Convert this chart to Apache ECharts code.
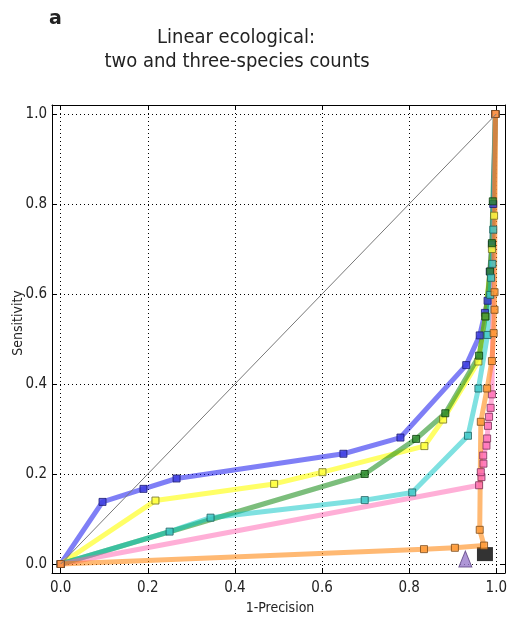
<!DOCTYPE html>
<html>
<head>
<meta charset="utf-8">
<script src="https://cdn.jsdelivr.net/npm/echarts@6/dist/echarts.min.js"></script>
<style>
  html, body { margin: 0; padding: 0; background: #fff; }
  #chart { width: 510px; height: 618px; }
</style>
</head>
<body>
<div id="chart"></div>
<script>
// Tick positions shared by both axes
const ticks = [0.0, 0.2, 0.4, 0.6, 0.8, 1.0];

// Reference diagonal
const diagX = [0, 1];
const diagY = [0, 1];

// ROC-style curves (1-Precision, Sensitivity)
const blueX = [0, 0.096, 0.19, 0.266, 0.649, 0.78, 0.931, 0.962, 0.974, 0.98, 0.985, 0.99, 0.993, 0.998];
const blueY = [0, 0.138, 0.167, 0.19, 0.245, 0.281, 0.442, 0.508, 0.558, 0.585, 0.65, 0.71, 0.8, 1.0];

const yellowX = [0, 0.2175, 0.49, 0.601, 0.835, 0.878, 0.959, 0.975, 0.99, 0.995, 0.998];
const yellowY = [0, 0.141, 0.178, 0.204, 0.262, 0.321, 0.45, 0.55, 0.7, 0.774, 1.0];

const greenX = [0, 0.698, 0.816, 0.883, 0.9606, 0.975, 0.986, 0.99, 0.992, 0.998];
const greenY = [0, 0.2, 0.278, 0.335, 0.463, 0.55, 0.65, 0.713, 0.806, 1.0];

const tealX = [0, 0.25, 0.344, 0.698, 0.807, 0.935, 0.959, 0.98, 0.986, 0.988, 0.991, 0.993, 0.998];
const tealY = [0, 0.072, 0.103, 0.142, 0.159, 0.285, 0.39, 0.509, 0.598, 0.636, 0.667, 0.743, 1.0];

const orangeX = [0, 0.834, 0.905, 0.972, 0.962, 0.9645, 0.979, 0.99, 0.994, 0.996, 0.996, 0.998];
const orangeY = [0, 0.033, 0.036, 0.041, 0.076, 0.316, 0.39, 0.451, 0.513, 0.565, 0.604, 1.0];

const pinkX = [0, 0.9606, 0.966, 0.9645, 0.9706, 0.97, 0.9775, 0.979, 0.981, 0.9835, 0.987, 0.99, 0.998];
const pinkY = [0, 0.175, 0.193, 0.204, 0.223, 0.241, 0.263, 0.279, 0.307, 0.327, 0.347, 0.377, 1.0];

// Single-point reference markers
const squareX = [0.974];
const squareY = [0.022];
const triangleX = [0.929];
const triangleY = [0.011];

const FONT = '"DejaVu Sans Condensed", "Liberation Sans Narrow", "DejaVu Sans", sans-serif';

function pairs(xs, ys) { return xs.map((x, i) => [x, ys[i]]); }

function curve(name, xs, ys, line, lineOpacity, fill, edge) {
  return {
    name, type: 'line', data: pairs(xs, ys),
    xAxisIndex: 0, yAxisIndex: 0,
    symbol: 'rect', symbolSize: 7, showSymbol: true,
    lineStyle: { color: line, width: 5, opacity: lineOpacity },
    itemStyle: { color: fill, borderColor: edge, borderWidth: 1, opacity: 0.8 },
    emphasis: { disabled: true },
    animation: false
  };
}

const frameAxis = {
  type: 'value', min: -0.02, max: 1.02,
  axisLine: { show: true, onZero: false, lineStyle: { color: '#000', width: 1 } },
  axisTick: { show: true, inside: true, length: 5, customValues: ticks, lineStyle: { color: '#000' } },
  axisLabel: { show: false },
  splitLine: { show: false }
};

const chart = echarts.init(document.getElementById('chart'), null, { renderer: 'canvas' });
chart.setOption({
  animation: false,
  grid: { left: 52, right: 5, top: 105, bottom: 45 },
  xAxis: [
    Object.assign({}, frameAxis, {
      position: 'bottom',
      axisLabel: { show: true, customValues: ticks, formatter: v => v.toFixed(1),
                   fontSize: 15, color: '#222', margin: 8, fontFamily: FONT },
      splitLine: { show: true, lineStyle: { color: '#000', type: [1, 3], width: 1 } }
    }),
    Object.assign({}, frameAxis, { position: 'top' })
  ],
  yAxis: [
    Object.assign({}, frameAxis, {
      position: 'left',
      axisLabel: { show: true, customValues: ticks, formatter: v => v.toFixed(1),
                   fontSize: 15, color: '#222', margin: 5, fontFamily: FONT },
      splitLine: { show: true, lineStyle: { color: '#000', type: [1, 3], width: 1 } }
    }),
    Object.assign({}, frameAxis, { position: 'right' })
  ],
  graphic: [
    { type: 'text', x: 49, y: 10, style: { text: 'a', fontSize: 19, fontWeight: 'bold', fill: '#222', fontFamily: '"DejaVu Sans", sans-serif' } },
    { type: 'text', x: 236, y: 38, style: { text: 'Linear ecological:', align: 'center', verticalAlign: 'middle', fontSize: 20, fill: '#222', fontFamily: FONT } },
    { type: 'text', x: 237, y: 62, style: { text: 'two and three-species counts', align: 'center', verticalAlign: 'middle', fontSize: 20, fill: '#222', fontFamily: FONT } },
    { type: 'text', x: 280, y: 608, style: { text: '1-Precision', align: 'center', verticalAlign: 'middle', fontSize: 14, fill: '#222', fontFamily: FONT } },
    { type: 'text', x: 18, y: 323, rotation: Math.PI / 2, style: { text: 'Sensitivity', align: 'center', verticalAlign: 'middle', fontSize: 14, fill: '#222', fontFamily: FONT } }
  ],
  series: [
    curve('blue', blueX, blueY, '#0000ee', 0.5, '#3b3be0', '#1a1a70'),
    curve('yellow', yellowX, yellowY, '#ffff00', 0.6, '#ffff40', '#707020'),
    curve('green', greenX, greenY, '#118811', 0.55, '#2e8b2e', '#0d400d'),
    curve('teal', tealX, tealY, '#00c4c4', 0.5, '#40c8c8', '#1d5f5f'),
    curve('pink', pinkX, pinkY, '#ff5fb0', 0.5, '#ff70b8', '#7a2f58'),
    curve('orange', orangeX, orangeY, '#ff8000', 0.55, '#ff9933', '#7a4a18'),
    {
      name: 'square', type: 'scatter', data: pairs(squareX, squareY),
      symbol: 'rect', symbolSize: [16, 14], itemStyle: { color: '#000' },
      emphasis: { disabled: true }
    },
    {
      name: 'triangle', type: 'scatter', data: pairs(triangleX, triangleY),
      symbol: 'triangle', symbolSize: [13, 16],
      itemStyle: { color: '#9a7ccc', borderColor: '#5a4080', borderWidth: 1 },
      emphasis: { disabled: true }
    },
    {
      name: 'diagonal', type: 'line', data: pairs(diagX, diagY), symbol: 'none',
      lineStyle: { color: '#777', width: 1 }, emphasis: { disabled: true }, z: 5
    }
  ]
});
</script>
</body>
</html>
